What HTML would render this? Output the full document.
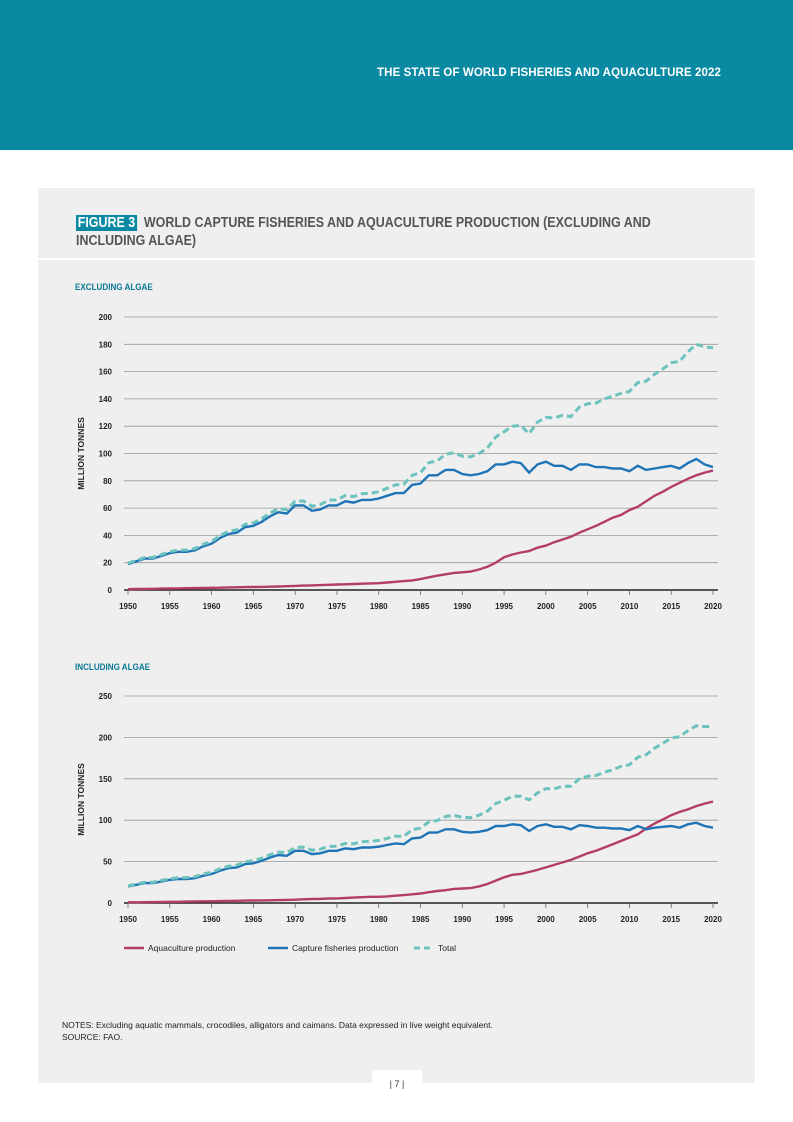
<!DOCTYPE html>
<html><head><meta charset="utf-8"><style>
body{margin:0;width:793px;height:1122px;background:#fff;position:relative;font-family:"Liberation Sans",sans-serif;overflow:hidden}
.hdr{position:absolute;left:0;top:0;width:793px;height:150px;background:#0a8aa2}
.hdr span{position:absolute;right:72px;top:67px;color:#fff;font-size:11.5px;font-weight:bold;letter-spacing:0.1px}
.panel{position:absolute;left:38px;top:188px;width:717px;height:895px;background:#efefef}
.divl{position:absolute;left:0;top:70px;width:717px;height:2px;background:#fff}
.title{position:absolute;left:38px;top:26px;font-size:14.5px;font-weight:bold;color:#555;line-height:18px;transform:scaleX(0.86);transform-origin:left}
.fig{background:#0a8aa2;color:#fff;padding:0 2px}
.sub{position:absolute;font-size:9.5px;font-weight:bold;color:#0a7a96;transform:scaleX(0.85);transform-origin:left}
.notes{position:absolute;left:62px;top:1019px;font-size:8.5px;color:#222;line-height:12px}
.pg{position:absolute;left:372px;top:1070px;width:50px;height:25px;background:#fff;text-align:center;font-size:9px;line-height:28px;color:#333}
svg{position:absolute;left:0;top:0}
</style></head><body>
<div class="hdr"><span>THE STATE OF WORLD FISHERIES AND AQUACULTURE 2022</span></div>
<div class="panel">
<div class="title"><span class="fig">FIGURE 3</span>&nbsp; WORLD CAPTURE FISHERIES AND AQUACULTURE PRODUCTION (EXCLUDING AND<br>INCLUDING ALGAE)</div>
<div class="divl"></div>
</div>
<div class="sub" style="left:75px;top:282px">EXCLUDING ALGAE</div>
<div class="sub" style="left:75px;top:662px">INCLUDING ALGAE</div>
<svg id="c" width="793" height="1122"></svg>
<div class="notes">NOTES: Excluding aquatic mammals, crocodiles, alligators and caimans. Data expressed in live weight equivalent.<br>SOURCE: FAO.</div>
<div class="pg">| 7 |</div>
<script>
const years=[];for(let y=1950;y<=2020;y++)years.push(y);
const xTicks=[1950,1955,1960,1965,1970,1975,1980,1985,1990,1995,2000,2005,2010,2015,2020];
const yTicks1=[0,20,40,60,80,100,120,140,160,180,200];
const yTicks2=[0,50,100,150,200,250];
const aqua1=[0.6,0.7,0.8,0.9,1,1.1,1.2,1.3,1.4,1.5,1.6,1.7,1.9,2.0,2.1,2.2,2.3,2.4,2.6,2.8,3.0,3.2,3.4,3.6,3.8,4.0,4.2,4.4,4.6,4.8,5.0,5.5,6.0,6.5,7.0,8.0,9.3,10.5,11.5,12.5,13.0,13.5,15,17,20,24,26,27.5,28.5,31,32.5,35,37,39,42,44.5,47,50,53,55,58.5,61,65,69,72,75.5,78.5,81.5,84,86,87.5];
const capt1=[19,21,23,23,25,27,28,28,29,32,34,38,41,42,46,47,50,54,57,56,62,62,58,59,62,62,65,64,66,66,67,69,71,71,77,78,84,84,88,88,85,84,85,87,92,92,94,93,86,92,94,91,91,88,92,92,90,90,89,89,87,91,88,89,90,91,89,93,96,92,90];
const aqua2=[0.8,0.9,1.0,1.1,1.3,1.4,1.5,1.7,1.8,2.0,2.1,2.3,2.5,2.7,2.9,3.0,3.1,3.3,3.5,3.8,4.0,4.5,4.8,5.0,5.4,5.6,6.0,6.5,7.0,7.5,7.5,8.0,8.8,9.5,10.5,11.5,13.0,14.5,15.5,17.0,17.5,18,20,23,27,31,34,35,37.5,40,43,46,49,52,56,60,63,67,71,75,79,83,90,96,101,106,110,113,117,120,122.5];
const capt2=[20,22,24,24,26,28,29,29,30,33,35,39,42,43,47,48,51,55,58,57,63,63,59,60,63,63,66,65,67,67,68,70,72,71,78,79,85,85,89,89,86,85,86,88,93,93,95,94,87,93,95,92,92,89,94,93,91,91,90,90,88,93,89,91,92,93,91,95,97,93,91];
const svg=document.getElementById('c');const NS='http://www.w3.org/2000/svg';
function mk(t,a,p){const e=document.createElementNS(NS,t);for(const k in a)e.setAttribute(k,a[k]);(p||svg).appendChild(e);return e;}
function chart(id,y0,yTop,yMax,ticks,aq,ca,title){
 const xs=v=>128+(v-1950)*(713-128)/70, ys=v=>y0-v*(y0-yTop)/yMax;
 const g=mk('g',{});
 
 
 ticks.forEach(t=>{
  const l=mk('line',{x1:124,x2:718,y1:ys(t),y2:ys(t),stroke:t==0?'#222':'#999','stroke-width':t==0?1.6:0.8},g);
  
  
  const tx=mk('text',{x:112,y:ys(t)+3,'text-anchor':'end','font-size':8,'font-weight':'bold',fill:'#222'},g);tx.textContent=t;
  
  
 });
 xTicks.forEach(t=>{
  mk('line',{x1:xs(t),x2:xs(t),y1:y0,y2:y0+5,stroke:'#666','stroke-width':0.8},g);
  const tx=mk('text',{x:xs(t),y:y0+19,'text-anchor':'middle','font-size':8,'font-weight':'bold',fill:'#222'},g);tx.textContent=t;
  
  
 });
 const at=mk('text',{transform:`translate(84,${(y0+yTop)/2}) rotate(-90)`,'text-anchor':'middle','font-size':8.5,'font-weight':'bold',fill:'#222'},g);at.textContent='MILLION TONNES';
 
 
 const tot=aq.map((v,i)=>v+ca[i]);
 const pts=a=>a.map((v,i)=>xs(years[i]).toFixed(1)+','+ys(v).toFixed(1)).join(' ');
 const s1=mk('polyline',{points:pts(aq),fill:'none',stroke:'#b33c68','stroke-width':2.4},g);
 
 
 const s2=mk('polyline',{points:pts(ca),fill:'none',stroke:'#1f74b5','stroke-width':2.4},g);
 
 
 const s3=mk('polyline',{points:pts(tot),fill:'none',stroke:'#6cc3bd','stroke-width':3,'stroke-dasharray':'7,4'},g);
 
 
}
chart('chart-excluding-algae',590,317,200,yTicks1,aqua1,capt1);
chart('chart-including-algae',903,696,250,yTicks2,aqua2,capt2);
const leg=[['Aquaculture production','#b33c68',0,124],['Capture fisheries production','#1f74b5',0,268],['Total','#6cc3bd',1,414]];
leg.forEach(l=>{
 const g=mk('g',{});
 
 
 mk('line',{x1:l[3],x2:l[3]+20,y1:948,y2:948,stroke:l[1],'stroke-width':l[2]?3:2.4,'stroke-dasharray':l[2]?'6,4':'none'},g);
 const t=mk('text',{x:l[3]+24,y:951,'font-size':8.5,fill:'#222'},g);t.textContent=l[0];
});
</script>
</body></html>
